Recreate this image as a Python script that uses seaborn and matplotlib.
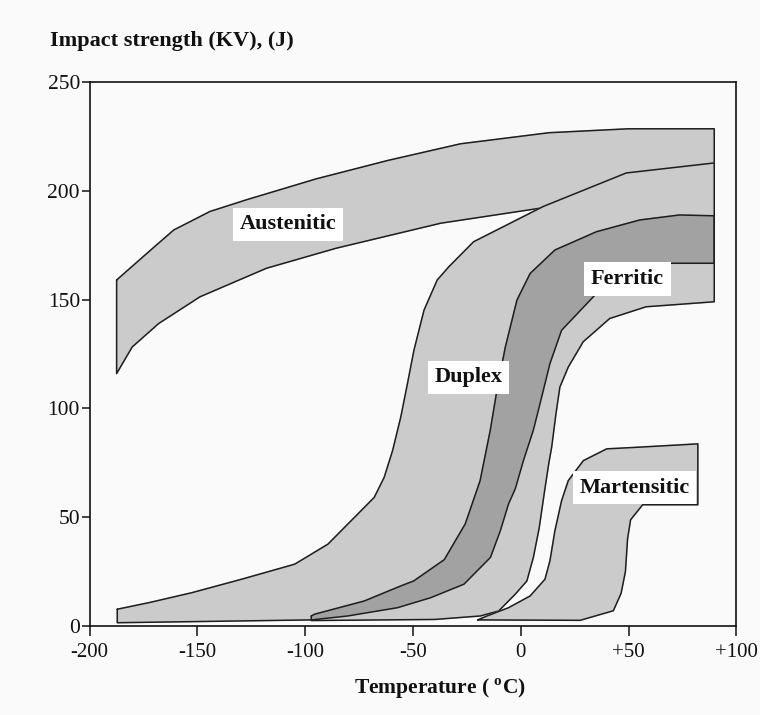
import numpy as np
import pandas as pd
import matplotlib
matplotlib.use("Agg")
import matplotlib.pyplot as plt
import seaborn as sns

# ---- scatter bands of Charpy-V impact energy vs temperature ----
aust_upper_t = [-187.5, -173.4, -161.0, -144.2, -127.2, -94.9, -61.5, -28.0, 13.1, 49.9, 89.7]
aust_upper_e = [159.0, 171.3, 182.0, 190.5, 195.9, 205.5, 214.0, 221.6, 226.7, 228.5, 228.5]
aust_lower_t = [-187.5, -180.3, -168.0, -148.8, -118.0, -85.7, -37.2, 8.9, 50.0, 89.7]
aust_lower_e = [116.0, 128.2, 139.0, 151.3, 164.4, 173.6, 185.1, 192.0, 198.0, 201.0]

dup_upper_t = [-187.2, -172.6, -152.6, -129.5, -104.9, -89.5, -77.2, -68.0, -63.4, -59.5,
               -55.7, -52.6, -49.6, -44.9, -38.8, -33.4, -21.9, 10.4, 48.9, 89.7]
dup_upper_e = [7.7, 10.7, 15.3, 21.5, 28.4, 37.6, 49.9, 59.1, 68.3, 80.6,
               96.0, 111.4, 126.7, 145.2, 159.0, 165.1, 176.6, 192.8, 208.2, 212.8]
dup_lower_t = [-187.2, -97.0, -80.3, -57.2, -41.8, -26.4, -14.1, -9.5, -5.7, -2.6,
               1.2, 5.8, 8.9, 13.5, 18.9, 34.3, 64.3, 89.7]
dup_lower_e = [1.5, 2.8, 4.6, 8.4, 13.0, 19.2, 31.5, 43.8, 56.1, 63.0,
               76.0, 90.0, 102.2, 120.6, 135.9, 152.0, 166.7, 166.7]

fer_upper_t = [-97.2, -95.7, -72.6, -55.7, -49.7, -35.5, -25.8, -18.9, -14.2, -11.1,
               -7.2, -1.8, 4.3, 15.8, 35.1, 55.2, 73.6, 89.7]
fer_upper_e = [4.6, 5.4, 11.5, 18.4, 20.7, 30.5, 46.9, 66.8, 89.9, 108.3,
               128.2, 149.8, 162.0, 172.8, 181.2, 186.6, 188.9, 188.5]
fer_lower_t = [-97.2, -40.0, -18.8, -10.3, -2.6, 2.8, 5.8, 8.5, 11.0, 13.0, 14.3,
               16.3, 18.1, 22.0, 28.9, 41.2, 58.1, 89.7]
fer_lower_e = [2.5, 3.0, 4.6, 6.9, 14.6, 20.7, 31.5, 45.0, 62.0, 75.0, 82.2,
               97.6, 109.8, 119.0, 130.6, 141.3, 146.7, 149.0]

mart_upper_t = [-20.0, -15.7, -5.7, 4.3, 11.2, 13.5, 15.8, 18.9, 22.0, 29.0, 39.8, 55.2, 82.1]
mart_upper_e = [2.8, 4.6, 8.4, 13.8, 21.5, 30.0, 43.8, 57.6, 66.8, 76.0, 81.4, 82.2, 83.7]
mart_lower_t = [-20.0, 27.5, 42.9, 46.5, 48.5, 49.5, 50.9, 56.5, 82.1]
mart_lower_e = [2.8, 2.6, 7.0, 15.0, 25.0, 40.0, 48.8, 55.7, 55.7]

band_names = ["Austenitic", "Duplex", "Ferritic", "Martensitic"]
label_t = [-108.0, -24.3, 49.4, 52.7]
label_e = [184.6, 114.3, 159.4, 63.6]

x_ticks = [-200, -150, -100, -50, 0, 50, 100]
x_tick_labels = ["-200", "-150", "-100", "-50", "0", "+50", "+100"]
y_ticks = [0, 50, 100, 150, 200, 250]

LIGHT = "#cbcbcb"
DARK = "#a2a2a2"
EDGE = "#1e1e1e"
BG = "#fafafa"

sns.set_theme(style="ticks")
plt.rcParams["font.family"] = ["Liberation Serif", "DejaVu Serif"]
plt.rcParams["mathtext.fontset"] = "custom"
plt.rcParams["mathtext.rm"] = "Liberation Serif"
plt.rcParams["mathtext.bf"] = "Liberation Serif:bold"


def outline(ut, ue, lt, le):
    """Closed outline of a band: upper edge left->right, lower edge back."""
    t = list(ut) + list(lt[::-1]) + [ut[0]]
    e = list(ue) + list(le[::-1]) + [ue[0]]
    return pd.DataFrame({"t": t, "e": e})


bands = {
    "Austenitic": outline(aust_upper_t, aust_upper_e, aust_lower_t, aust_lower_e),
    "Duplex": outline(dup_upper_t, dup_upper_e, dup_lower_t, dup_lower_e),
    "Ferritic": outline(fer_upper_t, fer_upper_e, fer_lower_t, fer_lower_e),
    "Martensitic": outline(mart_upper_t, mart_upper_e, mart_lower_t, mart_lower_e),
}

fig = plt.figure(figsize=(7.6, 7.15), dpi=100, facecolor=BG)
ax = fig.add_axes([0.118, 0.1245, 0.851, 0.7608])
ax.set_facecolor(BG)


def draw_outline(df, z):
    sns.lineplot(data=df, x="t", y="e", sort=False, estimator=None,
                 color=EDGE, linewidth=1.1, ax=ax, zorder=z)


# austenitic band (its lower edge disappears beneath the duplex band)
aus = bands["Austenitic"]
ax.fill(aus["t"], aus["e"], color=LIGHT, zorder=1)
draw_outline(aus, 1.5)

# duplex band
dup = bands["Duplex"]
dup_patch = ax.fill(dup["t"], dup["e"], color=LIGHT, zorder=2)[0]

# ferritic band, plus its overlap with the duplex band in a darker grey
fer = bands["Ferritic"]
ax.fill(fer["t"], fer["e"], color=LIGHT, zorder=3)
overlap = ax.fill(fer["t"], fer["e"], color=DARK, zorder=3.5)[0]
overlap.set_clip_path(dup_patch)
draw_outline(dup, 4)
draw_outline(fer, 4)

# martensitic band
mar = bands["Martensitic"]
ax.fill(mar["t"], mar["e"], color=LIGHT, zorder=5)
draw_outline(mar, 5.5)

for name, t, e in zip(band_names, label_t, label_e):
    ax.text(t, e, name, ha="center", va="center", fontsize=16, fontweight="bold",
            color="#111111", zorder=10,
            bbox=dict(boxstyle="square,pad=0.3", facecolor="white", edgecolor="none"))

ax.set_xlim(-200, 100)
ax.set_ylim(0, 250)
ax.set_xticks(x_ticks)
ax.set_xticklabels(x_tick_labels)
ax.set_yticks(y_ticks)
ax.tick_params(axis="x", direction="out", length=7, width=1.1, pad=5,
               labelsize=15, colors="#111111")
ax.tick_params(axis="y", direction="out", length=6, width=1.1, pad=1,
               labelsize=15.5, colors="#111111")
for sp in ax.spines.values():
    sp.set_linewidth(1.2)
    sp.set_color("#111111")

ax.set_ylabel("")
ax.set_xlabel(r"Temperature ( $^{\mathbf{o}}$C)", fontsize=15.5, fontweight="bold",
              color="#111111")
ax.xaxis.set_label_coords(0.541, -0.093)

fig.text(50 / 760, 1 - 41 / 715, "Impact strength (KV), (J)", ha="left", va="center",
         fontsize=16, fontweight="bold", color="#111111")

fig.savefig("out.png", dpi=100, facecolor=BG)
